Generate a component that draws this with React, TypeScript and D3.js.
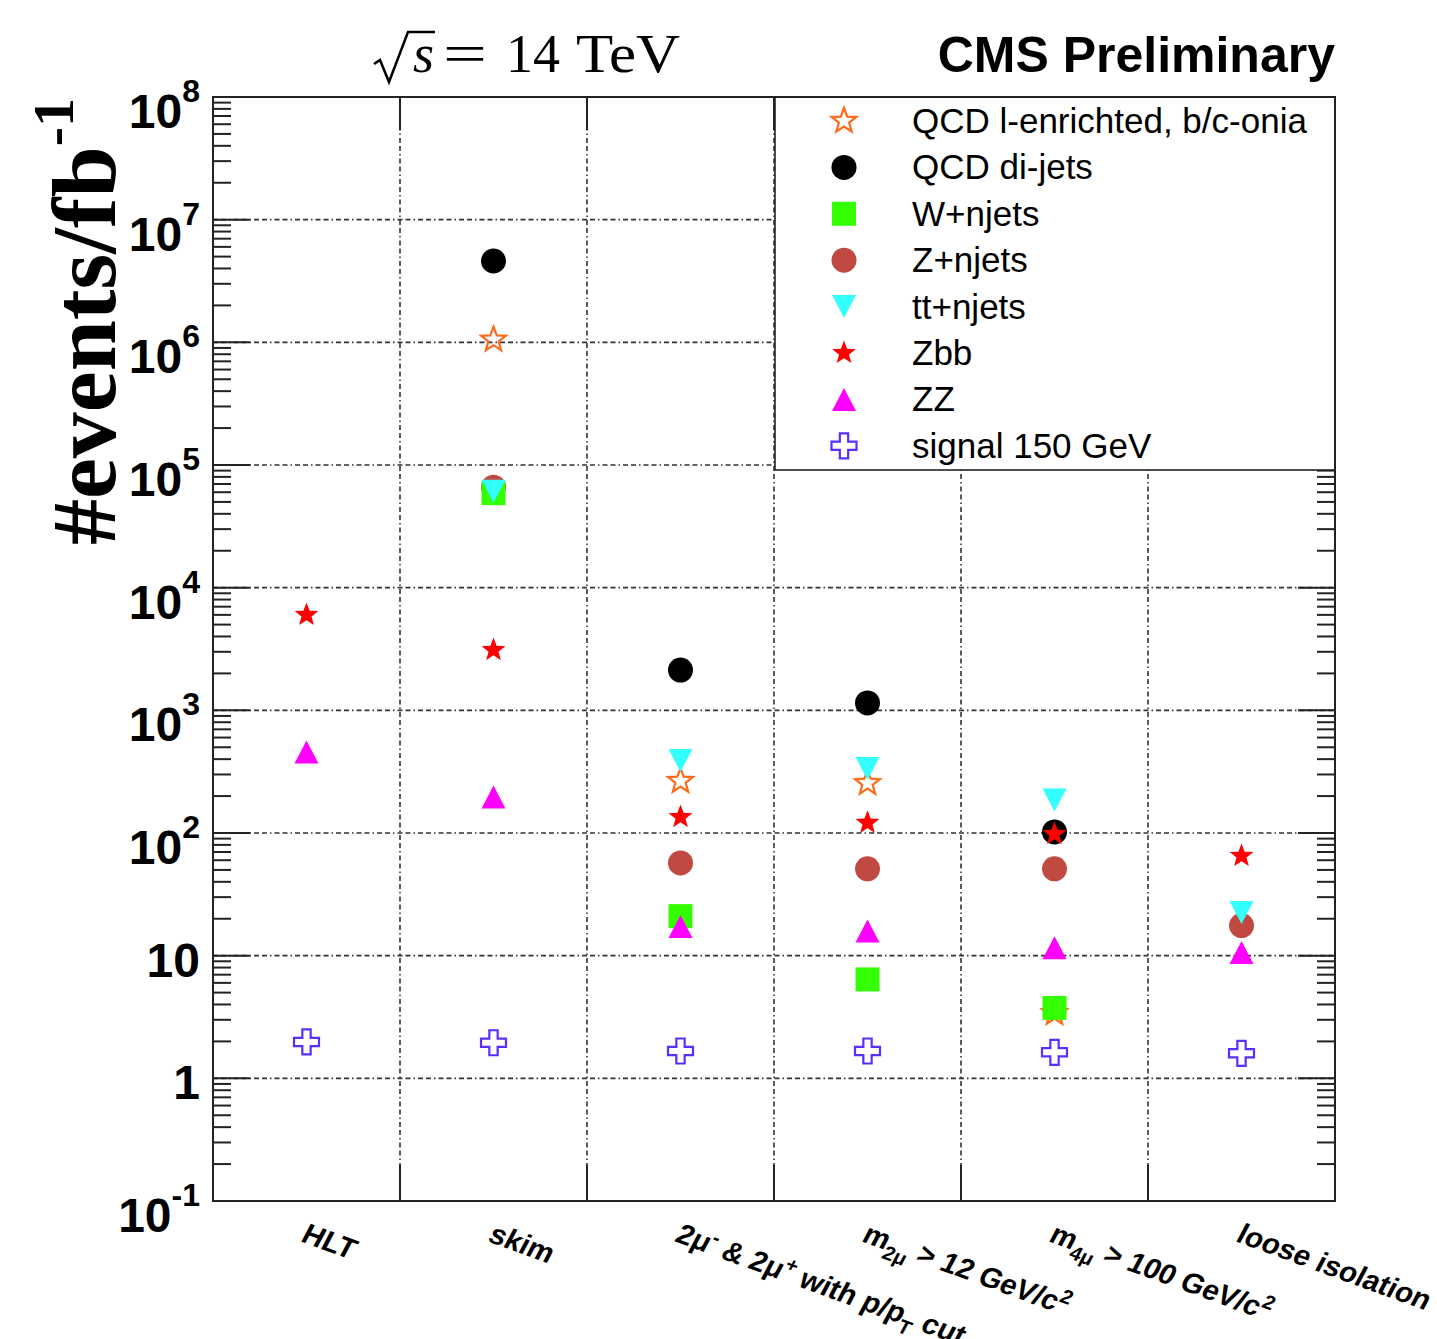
import * as d3 from 'd3';

const width = 1437;
const height = 1339;
const margin = { top: 97, right: 102, bottom: 138, left: 213 };

// cut-flow steps (x bins)
const categories = ['HLT', 'skim', 'pcut', 'm2mu', 'm4mu', 'iso'];
const binLabels: [string, string?][][] = [
  [['HLT']],
  [['skim']],
  [['2μ'], ['-', 'sup'], [' & 2μ'], ['+', 'sup'], [' with p/p'], ['T', 'sub'], [' cut']],
  [['m'], ['2μ', 'sub'], [' > 12 GeV/c'], ['2', 'sup']],
  [['m'], ['4μ', 'sub'], [' > 100 GeV/c'], ['2', 'sup']],
  [['loose isolation']],
];

// events / fb^-1 per step, null = not shown
const qcdLepton = [null, 1.05e6, 265, 255, 3.4, null];
const qcdDijets = [null, 4.6e6, 2130, 1150, 102, null];
const zJets = [null, 6.6e4, 57, 51, 51, 17.6];
const wJets = [null, 5.9e4, 21, 6.4, 3.75, null];
const ttJets = [null, 6.1e4, 390, 336, 186, 22.5];
const zbb = [6000, 3100, 135, 121, 98, 65];
const zz = [457, 197, 17.3, 15.9, 11.6, 10.6];
const signal = [1.98, 1.95, 1.67, 1.67, 1.63, 1.6];

type Shape = 'openStar' | 'circle' | 'square' | 'triDown' | 'star' | 'triUp' | 'openCross';

// legend order
const series: { name: string; values: (number | null)[]; shape: Shape; color: string }[] = [
  { name: 'QCD l-enrichted, b/c-onia', values: qcdLepton, shape: 'openStar', color: '#ff6a1a' },
  { name: 'QCD di-jets', values: qcdDijets, shape: 'circle', color: '#000000' },
  { name: 'W+njets', values: wJets, shape: 'square', color: '#33ff00' },
  { name: 'Z+njets', values: zJets, shape: 'circle', color: '#c04a42' },
  { name: 'tt+njets', values: ttJets, shape: 'triDown', color: '#33ffff' },
  { name: 'Zbb', values: zbb, shape: 'star', color: '#ff0000' },
  { name: 'ZZ', values: zz, shape: 'triUp', color: '#ff00ff' },
  { name: 'signal 150 GeV', values: signal, shape: 'openCross', color: '#5a2eff' },
];
// drawing order (later on top)
const drawOrder = [0, 1, 3, 2, 4, 5, 6, 7];

function starPath(R: number) {
  const r = R * 0.42;
  const p = d3.path();
  for (let i = 0; i < 10; i++) {
    const a = -Math.PI / 2 + (i * Math.PI) / 5;
    const rr = i % 2 === 0 ? R : r;
    if (i === 0) p.moveTo(rr * Math.cos(a), rr * Math.sin(a));
    else p.lineTo(rr * Math.cos(a), rr * Math.sin(a));
  }
  p.closePath();
  return p.toString();
}

function crossPath(s: number) {
  const a = s / 2, b = s / 6;
  return `M${-b},${-a}H${b}V${-b}H${a}V${b}H${b}V${a}H${-b}V${b}H${-a}V${-b}H${-b}Z`;
}

function Marker({ shape, color, cx, cy }: { shape: Shape; color: string; cx: number; cy: number }) {
  const t = `translate(${cx},${cy})`;
  switch (shape) {
    case 'circle':
      return <circle cx={cx} cy={cy} r={12.5} fill={color} />;
    case 'square':
      return <rect x={cx - 12} y={cy - 12} width={24} height={24} fill={color} />;
    case 'triUp':
      return <path transform={t} d="M0,-11.5L12,11.5L-12,11.5Z" fill={color} />;
    case 'triDown':
      return <path transform={t} d="M0,11.5L12,-11.5L-12,-11.5Z" fill={color} />;
    case 'star':
      return <path transform={t} d={starPath(12.5)} fill={color} />;
    case 'openStar':
      return <path transform={t} d={starPath(13)} fill="none" stroke={color} strokeWidth={2.2} />;
    case 'openCross':
      return <path transform={t} d={crossPath(25)} fill="none" stroke={color} strokeWidth={2.2} />;
  }
}

function RichLabel({ parts, fontSize }: { parts: [string, string?][]; fontSize: number }) {
  let cur = 0;
  return (
    <>
      {parts.map(([txt, kind], i) => {
        const target = kind === 'sup' ? -11 : kind === 'sub' ? 9 : 0;
        const dy = target - cur;
        cur = target;
        return (
          <tspan key={i} dy={dy} fontSize={kind ? fontSize * 0.7 : fontSize}>
            {txt}
          </tspan>
        );
      })}
    </>
  );
}

export default function App() {
  const x = d3.scaleBand<string>().domain(categories).range([margin.left, width - margin.right]);
  const y = d3.scaleLog().domain([0.1, 1e8]).range([height - margin.bottom, margin.top]);
  const left = margin.left, right = width - margin.right, top = margin.top, bottom = height - margin.bottom;

  const decades = d3.range(-1, 9);
  const minors: number[] = [];
  d3.range(-1, 8).forEach(e => d3.range(2, 10).forEach(m => minors.push(m * 10 ** e)));
  const edges = categories.slice(1).map(c => x(c) as number);

  const grid = '5 3 5 3 1.5 3';
  const axisColor = '#222';

  const legendX = 775, legendTop = 97, legendBottom = 470;
  const rowStep = 46.4;

  return (
    <svg width={width} height={height} style={{ position: 'absolute', left: 0, top: 0, background: '#fff' }}
      fontFamily="'Liberation Sans', Arial, sans-serif">
      {/* grid */}
      {decades.filter(e => e > -1 && e < 8).map(e => (
        <line key={'gh' + e} x1={left} x2={right} y1={y(10 ** e)} y2={y(10 ** e)}
          stroke="#333" strokeWidth={1.6} strokeDasharray={grid} />
      ))}
      {edges.map((ex, i) => (
        <line key={'gv' + i} x1={ex} x2={ex} y1={top} y2={bottom}
          stroke="#333" strokeWidth={1.6} strokeDasharray={grid} />
      ))}

      {/* ticks */}
      {decades.map(e => (
        <g key={'mt' + e}>
          <line x1={left} x2={left + 37} y1={y(10 ** e)} y2={y(10 ** e)} stroke={axisColor} strokeWidth={2} />
          <line x1={right} x2={right - 37} y1={y(10 ** e)} y2={y(10 ** e)} stroke={axisColor} strokeWidth={2} />
        </g>
      ))}
      {minors.map((v, i) => (
        <g key={'mn' + i}>
          <line x1={left} x2={left + 18} y1={y(v)} y2={y(v)} stroke={axisColor} strokeWidth={2} />
          <line x1={right} x2={right - 18} y1={y(v)} y2={y(v)} stroke={axisColor} strokeWidth={2} />
        </g>
      ))}
      {edges.map((ex, i) => (
        <g key={'xt' + i}>
          <line x1={ex} x2={ex} y1={top} y2={top + 33} stroke={axisColor} strokeWidth={2} />
          <line x1={ex} x2={ex} y1={bottom} y2={bottom - 36} stroke={axisColor} strokeWidth={2} />
        </g>
      ))}

      {/* markers */}
      {drawOrder.map(si => {
        const s = series[si];
        return (
          <g key={s.name}>
            {s.values.map((v, i) =>
              v == null ? null : (
                <Marker key={i} shape={s.shape} color={s.color}
                  cx={(x(categories[i]) as number) + x.bandwidth() / 2} cy={y(v)} />
              )
            )}
          </g>
        );
      })}

      {/* legend */}
      <rect x={legendX} y={legendTop} width={right - legendX} height={legendBottom - legendTop}
        fill="#fff" stroke={axisColor} strokeWidth={1.6} />
      {series.map((s, i) => {
        const cy = 121 + i * rowStep;
        return (
          <g key={'lg' + i}>
            <Marker shape={s.shape} color={s.color} cx={844} cy={cy} />
            <text x={912} y={cy + 12} fontSize={35} fill="#000">{s.name}</text>
          </g>
        );
      })}

      {/* frame */}
      <rect x={left} y={top} width={right - left} height={bottom - top} fill="none" stroke={axisColor} strokeWidth={2} />

      {/* y labels */}
      {decades.map(e => {
        const yy = y(10 ** e);
        if (e === 0 || e === 1)
          return (
            <text key={'yl' + e} x={200} y={yy + 21} textAnchor="end" fontSize={48} fontWeight="bold">
              {e === 0 ? '1' : '10'}
            </text>
          );
        return (
          <text key={'yl' + e} x={200} y={yy + 31} textAnchor="end" fontSize={48} fontWeight="bold">
            10<tspan dy={-26} fontSize={32}>{String(e)}</tspan>
          </text>
        );
      })}

      {/* x labels */}
      {categories.map((c, i) => {
        const cx = (x(c) as number) + x.bandwidth() / 2 - 7;
        return (
          <text key={'xl' + i} transform={`translate(${cx},1241) rotate(20) skewX(-8)`} fontSize={29}
            fontWeight="bold">
            <RichLabel parts={binLabels[i]} fontSize={29} />
          </text>
        );
      })}

      {/* y title */}
      <text transform="translate(115,545) rotate(-90)" fontFamily="'Liberation Serif', 'Times New Roman', serif"
        fontWeight="bold" fontSize={92}>
        #events/fb<tspan dy={-42} fontSize={58}>-1</tspan>
      </text>

      {/* energy title */}
      <g fontFamily="'Liberation Serif', 'Times New Roman', serif" fontSize={54}>
        <path d="M374,64 L380,60 L389,82 L408,32 L435,32" fill="none" stroke="#000" strokeWidth={2.5} />
        <text x={413} y={72} fontStyle="italic">s</text>
        <text x={443} y={72} textLength={44} lengthAdjust="spacingAndGlyphs">=</text>
        <text x={506} y={72}>14</text>
        <text x={576} y={72} textLength={104} lengthAdjust="spacingAndGlyphs">TeV</text>
      </g>
      <text x={1335} y={72} textAnchor="end" fontSize={50} fontWeight="bold">CMS Preliminary</text>
    </svg>
  );
}
